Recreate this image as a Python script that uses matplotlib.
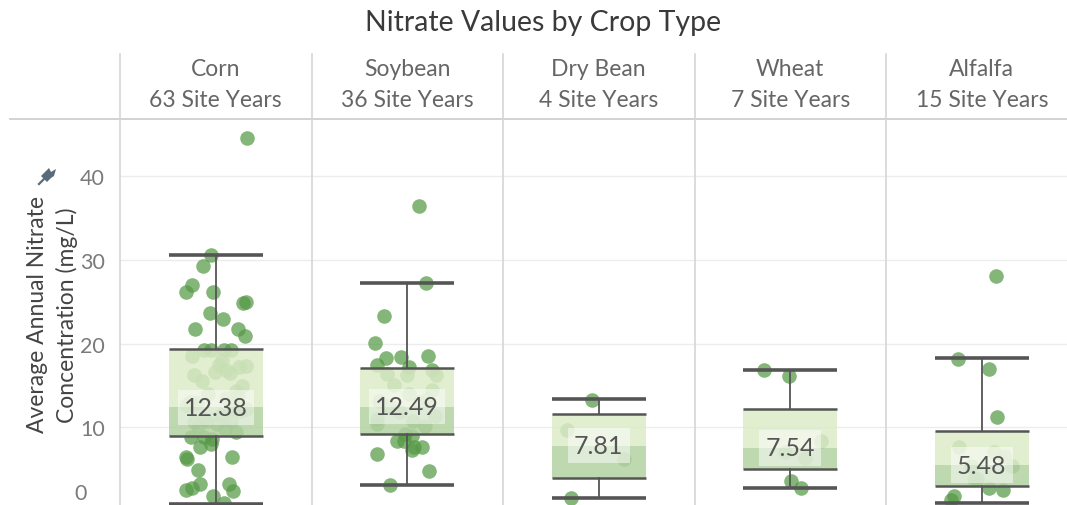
import matplotlib
matplotlib.use("Agg")
import matplotlib.pyplot as plt
from matplotlib.lines import Line2D
from matplotlib.patches import Rectangle, Polygon
import numpy as np

plt.rcParams['font.family'] = ['Lato', 'DejaVu Sans']

crops = ["Corn", "Soybean", "Dry Bean", "Wheat", "Alfalfa"]
site_years = [63, 36, 4, 7, 15]

# box statistics: lower whisker, Q1, median, Q3, upper whisker
whisker_low = [0.84, 3.1, 1.6, 2.8, 0.95]
q1 = [9.0, 9.2, 4.0, 5.0, 3.0]
medians = [12.38, 12.49, 7.81, 7.54, 5.48]
q3 = [19.36, 17.05, 11.6, 12.25, 9.6]
whisker_high = [30.6, 27.3, 13.35, 16.8, 18.3]

# point values and horizontal jitter (px offsets within the panel)
corn_vals = [44.6, 30.6, 29.3, 27.0, 26.2, 26.2, 25.0, 24.9, 23.7, 23.0, 21.75, 21.75,
             20.9, 19.3, 19.3, 19.3, 19.3, 18.0, 17.3, 17.2, 16.65, 16.8, 16.5, 16.2,
             14.4, 12.7, 12.9, 12.2, 12.2, 10.6, 10.7, 10.4, 10.8, 9.4, 8.8, 8.8, 8.6,
             7.6, 8.0, 6.4, 6.2, 6.4, 4.9, 2.5, 2.8, 3.2, 3.2, 2.4, 1.8, 0.96,
             11.0, 11.5, 12.0, 13.0, 13.5, 14.0, 15.0, 15.5, 17.5, 18.5, 9.8, 10.2, 13.8]
corn_jit = [31.7, -4.3, -12.3, -23.3, -30, -2.7, 30, 27.3, -5.7, 7.3, -20.7, 22,
            29.3, -11.7, -4.3, 8.3, 15, 6.7, 30.7, 23.3, -1, 10.7, 14, -21.7,
            20, -30, -18.3, 18.3, 30, -21.7, -8.3, 1.7, 15, 20, -25, -11.7, -3.3,
            -15.7, -5, -30, -29, 16.7, -17.3, -29.3, -23.3, -16, 13.3, 17.3, -2.7, 8.3,
            -12, 5, 24, -26, 10, -8, 26, -14, 3, -24, 9, -18, 22]

soy_vals = [36.4, 27.3, 23.3, 20.1, 18.3, 18.4, 18.5, 17.5, 17.2, 16.8, 16.4, 16.2,
            16.2, 15.1, 14.0, 13.4, 13.2, 11.8, 11.4, 11.0, 10.4, 10.2, 9.2, 9.0,
            8.4, 8.4, 7.6, 7.6, 7.3, 6.8, 4.8, 3.1, 12.5, 13.0, 14.5, 10.8]
soy_jit = [12, 19, -23.7, -32, -21, -6, 20.3, -30.3, 1.3, 24.7, -20.3, 0,
           29, -13.7, 1.3, 19.7, -28.7, -7, 28, -30.3, -30.3, 18, -2, 4.7,
           -10.3, -3.7, 6.3, 14.7, 4.7, -30.3, 22, -17, -18, 12, 25, 6]

bean_vals = [13.3, 9.7, 6.2, 1.6]
bean_jit = [-6.3, -31.3, 25.3, -27.3]

wheat_vals = [16.8, 16.1, 8.4, 6.3, 3.6, 2.75, 7.0]
wheat_jit = [-26.3, -1.7, 30.3, 14.3, 1, 11, -5]

alf_vals = [28.1, 18.2, 17.0, 11.2, 7.7, 7.1, 6.6, 5.4, 3.8, 3.8, 2.75, 2.5, 1.8, 1.3, 5.4]
alf_jit = [14.7, -23.7, 7.3, 15.7, -22.7, 12.3, 22.3, 30.7, -7.7, -4.3, 7.3, 21.3, -27.7, -31, -11]

point_vals = [corn_vals, soy_vals, bean_vals, wheat_vals, alf_vals]
point_jit = [corn_jit, soy_jit, bean_jit, wheat_jit, alf_jit]

W, H = 1067, 506
fig = plt.figure(figsize=(W / 100, H / 100), dpi=100)
PANEL_PX = 191.5
ax_left_px, ax_top_px = 120, 120
ax = fig.add_axes([ax_left_px / W, 0, 1 - ax_left_px / W, 1 - ax_top_px / H])
xmax = (W - ax_left_px) / PANEL_PX - 0.5
ax.set_xlim(-0.5, xmax)
ax.set_ylim(0.72, 46.85)

for s in ax.spines.values():
    s.set_visible(False)
ax.set_xticks([])
ax.set_yticks([10, 20, 30, 40])
ax.set_yticklabels(["10", "20", "30", "40"])
ax.tick_params(axis='y', length=0, pad=11, labelsize=15.5, labelcolor='#7a7a7a')
ax.yaxis.grid(True, color='#ececec', linewidth=1.0, zorder=0)
ax.set_axisbelow(True)
ax.text(-0.035, 2.15, "0", transform=ax.get_yaxis_transform(), ha='right', va='center',
        fontsize=15.5, color='#7a7a7a')

# separators
for xs in [0.5, 1.5, 2.5, 3.5]:
    ax.axvline(xs, color='#d6d6d6', linewidth=1.2, zorder=1)

point_color = '#559a46'
box_w = 0.49
for i in range(len(crops)):
    xs = i + np.array(point_jit[i]) / PANEL_PX
    ax.scatter(xs, point_vals[i], s=110, color=point_color, alpha=0.72, linewidths=0, zorder=2)
    # box fills
    ax.add_patch(Rectangle((i - box_w / 2, medians[i]), box_w, q3[i] - medians[i],
                           facecolor='#dcebc7', alpha=0.85, edgecolor='none', zorder=3))
    ax.add_patch(Rectangle((i - box_w / 2, q1[i]), box_w, medians[i] - q1[i],
                           facecolor='#b3d2a2', alpha=0.85, edgecolor='none', zorder=3))
    lc = '#555555'
    ax.plot([i, i], [q3[i], whisker_high[i]], color=lc, lw=1.3, zorder=4)
    ax.plot([i, i], [whisker_low[i], q1[i]], color=lc, lw=1.3, zorder=4)
    for yv, lw in [(q1[i], 1.8), (q3[i], 1.8), (whisker_low[i], 2.6), (whisker_high[i], 2.6)]:
        ax.plot([i - box_w / 2, i + box_w / 2], [yv, yv], color=lc, lw=lw, zorder=4,
                solid_capstyle='butt')
    ax.text(i, medians[i], f"{medians[i]:.2f}", ha='center', va='center', fontsize=18,
            color='#555555', zorder=5,
            bbox=dict(boxstyle='square,pad=0.25', facecolor='white', alpha=0.5, edgecolor='none'))

# header
fig.text(543 / W, 1 - 23 / H, "Nitrate Values by Crop Type", ha='center', va='center',
         fontsize=20.5, color='#3a3a3a')
for i, c in enumerate(crops):
    xc = (ax_left_px + (i + 0.5) * PANEL_PX) / W
    fig.text(xc, 1 - 69 / H, c, ha='center', va='center', fontsize=16.5, color='#666666')
    fig.text(xc, 1 - 101 / H, f"{site_years[i]} Site Years", ha='center', va='center',
             fontsize=16.5, color='#666666')

# header lines
fig.add_artist(Line2D([10 / W, 1], [1 - 120 / H, 1 - 120 / H], color='#cfcfcf', lw=1.3))
for k in range(5):
    xp = (ax_left_px + k * PANEL_PX) / W
    fig.add_artist(Line2D([xp, xp], [1 - 55 / H, 1 - 120 / H if k else 0], color='#d6d6d6', lw=1.2))

# y axis title
fig.text(38 / W, 1 - 315 / H, "Average Annual Nitrate", rotation=90, ha='center', va='center',
         fontsize=16.5, color='#444444')
fig.text(67 / W, 1 - 315 / H, "Concentration (mg/L)", rotation=90, ha='center', va='center',
         fontsize=16.5, color='#444444')

# pin icon (head upper-right, needle lower-left)
px, py = 48, 176
pin = [(px - 7, py + 1), (px + 1, py - 7), (px + 3, py - 3), (px + 8, py - 6), (px + 6, py + 1),
       (px + 3, py + 3), (px - 1, py + 7)]
fig.add_artist(Polygon([(a / W, 1 - b / H) for a, b in pin], closed=True,
                       facecolor='#5b6b7b', edgecolor='none', transform=fig.transFigure))
fig.add_artist(Line2D([(px - 2) / W, (px - 9) / W], [1 - (py + 2) / H, 1 - (py + 9) / H],
                      color='#5b6b7b', lw=1.6))

fig.savefig("out.png", dpi=100)
